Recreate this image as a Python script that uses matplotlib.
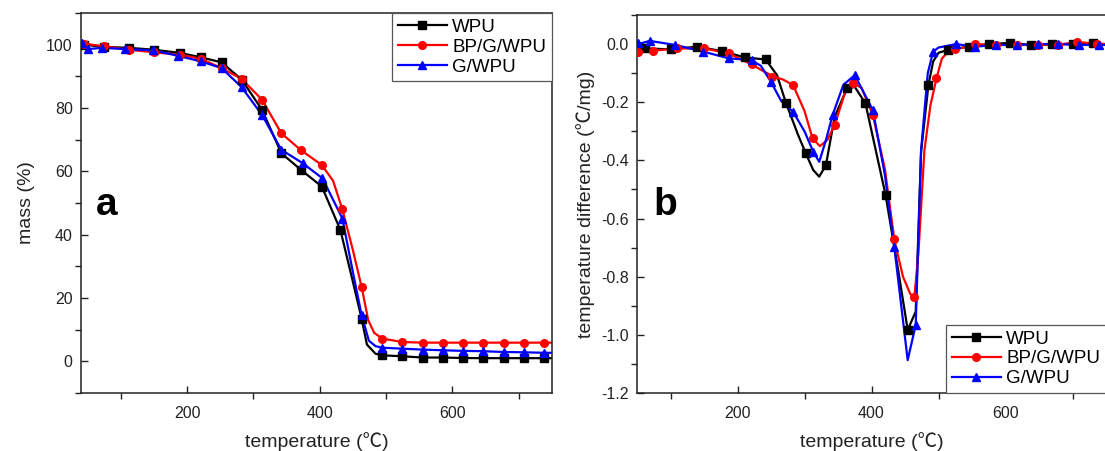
import matplotlib
matplotlib.use("Agg")
import matplotlib.pyplot as plt
from matplotlib.ticker import MultipleLocator

plt.rcParams["font.family"] = ["Liberation Sans", "Noto Sans CJK SC", "DejaVu Sans"]

SERIES = ["WPU", "BP/G/WPU", "G/WPU"]
COLORS = ["#000000", "#ff0000", "#0000ff"]
MARKERS = ["s", "o", "^"]

# ---- panel a: TGA mass (%) ------------------------------------------------
A_WPU_LINE_T = [40, 44, 74, 112, 150, 189, 221, 252, 282, 313, 342, 372, 403, 431, 450, 463,
                471, 484, 494, 524, 555, 585, 616, 646, 677, 708, 738, 750]
A_WPU_LINE_M = [100.2, 100.0, 99.3, 99.0, 98.4, 97.4, 96.0, 94.4, 89.0, 79.4, 65.7, 60.4, 55.2,
                41.5, 25.0, 13.5, 5.3, 2.4, 1.9, 1.6, 1.2, 1.2, 1.05, 1.0, 1.0, 1.0, 1.0, 1.0]
A_WPU_MARK_T = [44, 74, 112, 150, 189, 221, 252, 282, 313, 342, 372, 403, 431, 463, 494, 524,
                555, 585, 616, 646, 677, 708, 738]
A_WPU_MARK_M = [100.0, 99.3, 99.0, 98.4, 97.4, 96.0, 94.4, 89.0, 79.4, 65.7, 60.4, 55.2, 41.5,
                13.5, 1.9, 1.6, 1.2, 1.2, 1.05, 1.0, 1.0, 1.0, 1.0]

A_BP_LINE_T = [40, 44, 75, 112, 150, 189, 221, 252, 282, 313, 342, 372, 403, 420, 434, 450, 463,
               473, 482, 494, 524, 555, 585, 616, 646, 677, 708, 738, 750]
A_BP_LINE_M = [100.5, 100.3, 99.5, 98.4, 97.6, 96.8, 95.5, 92.6, 89.2, 82.6, 72.0, 66.6, 62.0,
               57.0, 48.0, 35.0, 23.5, 13.0, 9.0, 7.2, 6.1, 5.9, 5.9, 5.9, 5.9, 5.9, 5.9, 5.9, 5.9]
A_BP_MARK_T = [44, 75, 112, 150, 189, 221, 252, 282, 313, 342, 372, 403, 434, 463, 494, 524,
               555, 585, 616, 646, 677, 708, 738]
A_BP_MARK_M = [100.3, 99.5, 98.4, 97.6, 96.8, 95.5, 92.6, 89.2, 82.6, 72.0, 66.6, 62.0, 48.0,
               23.5, 7.2, 6.1, 5.9, 5.9, 5.9, 5.9, 5.9, 5.9, 5.9]

A_G_LINE_T = [40, 42, 50, 72, 107, 149, 186, 221, 252, 282, 313, 342, 374, 404, 434, 450, 463,
              474, 484, 494, 524, 555, 585, 616, 646, 677, 708, 738, 750]
A_G_LINE_M = [100.6, 100.5, 98.6, 99.0, 98.6, 98.2, 96.5, 94.7, 92.6, 86.6, 77.8, 66.8, 62.6,
              57.8, 45.1, 28.0, 14.6, 6.5, 4.8, 4.3, 4.0, 3.7, 3.5, 3.3, 3.2, 2.95, 2.85, 2.7, 2.7]
A_G_MARK_T = [42, 50, 72, 107, 149, 186, 221, 252, 282, 313, 342, 374, 404, 434, 463, 494, 524,
              555, 585, 616, 646, 677, 708, 738]
A_G_MARK_M = [100.5, 98.6, 99.0, 98.6, 98.2, 96.5, 94.7, 92.6, 86.6, 77.8, 66.8, 62.6, 57.8,
              45.1, 14.6, 4.3, 4.0, 3.7, 3.5, 3.3, 3.2, 2.95, 2.85, 2.7]

# ---- panel b: temperature difference (degC/mg) ----------------------------
B_WPU_LINE_T = [50, 62, 100, 139, 177, 211, 242, 259, 272, 290, 302, 313, 322, 332, 345, 363,
                375, 391, 421, 440, 454, 466, 474, 485, 492, 500, 514, 546, 576, 607, 638, 669,
                700, 731, 750]
B_WPU_LINE_D = [-0.020, -0.015, -0.018, -0.009, -0.024, -0.046, -0.053, -0.107, -0.200, -0.310,
                -0.376, -0.433, -0.456, -0.416, -0.250, -0.155, -0.147, -0.204, -0.519, -0.780,
                -0.983, -0.920, -0.370, -0.140, -0.060, -0.030, -0.020, -0.009, 0.000, 0.004,
                -0.003, 0.000, 0.000, 0.002, 0.000]
B_WPU_MARK_T = [62, 100, 139, 177, 211, 242, 272, 302, 332, 363, 391, 421, 454, 485, 514, 546,
                576, 607, 638, 669, 700, 731]
B_WPU_MARK_D = [-0.015, -0.018, -0.009, -0.024, -0.046, -0.053, -0.204, -0.376, -0.416, -0.150,
                -0.204, -0.519, -0.983, -0.140, -0.020, -0.009, 0.000, 0.004, -0.003, 0.000,
                0.000, 0.002]

B_BP_LINE_T = [50, 52, 74, 109, 150, 187, 221, 240, 254, 268, 283, 300, 312, 323, 334, 345, 360,
               372, 385, 402, 420, 434, 447, 458, 464, 470, 479, 488, 497, 505, 515, 540, 555,
               586, 617, 648, 678, 707, 737, 750]
B_BP_LINE_D = [-0.030, -0.026, -0.023, -0.015, -0.015, -0.032, -0.070, -0.095, -0.112, -0.122,
               -0.141, -0.230, -0.324, -0.351, -0.330, -0.279, -0.170, -0.135, -0.150, -0.244,
               -0.430, -0.672, -0.800, -0.860, -0.869, -0.720, -0.365, -0.210, -0.118, -0.050,
               -0.025, -0.010, 0.000, -0.003, -0.003, -0.003, -0.003, 0.008, 0.000, 0.000]
B_BP_MARK_T = [52, 74, 109, 150, 187, 221, 251, 283, 312, 345, 372, 402, 434, 464, 497, 525, 555,
               586, 617, 648, 678, 707, 737]
B_BP_MARK_D = [-0.026, -0.023, -0.015, -0.015, -0.032, -0.070, -0.112, -0.141, -0.324, -0.279,
               -0.135, -0.244, -0.672, -0.869, -0.118, -0.018, 0.000, -0.003, -0.003, -0.003,
               -0.003, 0.008, 0.000]

B_G_LINE_T = [50, 55, 69, 107, 149, 187, 221, 235, 250, 265, 283, 300, 313, 322, 332, 342, 358,
              375, 402, 420, 434, 454, 466, 474, 484, 492, 500, 526, 555, 586, 617, 648, 678, 709,
              740, 750]
B_G_LINE_D = [-0.010, 0.002, 0.011, -0.003, -0.026, -0.049, -0.055, -0.075, -0.130, -0.195,
              -0.233, -0.300, -0.370, -0.405, -0.330, -0.244, -0.140, -0.107, -0.227, -0.450,
              -0.697, -1.087, -0.966, -0.365, -0.100, -0.026, -0.012, 0.000, -0.009, -0.003,
              -0.003, 0.000, 0.000, -0.003, -0.003, -0.003]
B_G_MARK_T = [52, 69, 107, 149, 187, 221, 250, 283, 313, 342, 375, 402, 434, 466, 492, 526, 555,
              586, 617, 648, 678, 709, 740]
B_G_MARK_D = [0.002, 0.011, -0.003, -0.026, -0.049, -0.055, -0.130, -0.233, -0.370, -0.244,
              -0.107, -0.227, -0.697, -0.966, -0.026, 0.000, -0.009, -0.003, -0.003, 0.000,
              0.000, -0.003, -0.003]

A_DATA = [(A_WPU_LINE_T, A_WPU_LINE_M, A_WPU_MARK_T, A_WPU_MARK_M),
          (A_BP_LINE_T, A_BP_LINE_M, A_BP_MARK_T, A_BP_MARK_M),
          (A_G_LINE_T, A_G_LINE_M, A_G_MARK_T, A_G_MARK_M)]
B_DATA = [(B_WPU_LINE_T, B_WPU_LINE_D, B_WPU_MARK_T, B_WPU_MARK_D),
          (B_BP_LINE_T, B_BP_LINE_D, B_BP_MARK_T, B_BP_MARK_D),
          (B_G_LINE_T, B_G_LINE_D, B_G_MARK_T, B_G_MARK_D)]

TXT = "#222222"
MS = 5.5


def draw(ax, data):
    for (lt, lv, mt, mv), name, c, m in zip(data, SERIES, COLORS, MARKERS):
        ax.plot(lt, lv, color=c, linewidth=1.6, zorder=2)
        ax.plot(mt, mv, linestyle="none", marker=m, color=c, markersize=MS, zorder=3)
        # legend proxy
        ax.plot([], [], color=c, linewidth=1.6, marker=m, markersize=MS, label=name)


def style(ax):
    for s in ax.spines.values():
        s.set_linewidth(1.1)
        s.set_color("#222222")
    ax.tick_params(which="major", direction="in", length=5, width=1.0, labelsize=11.5,
                   colors=TXT, pad=6)
    ax.tick_params(axis="x", which="major", pad=9)
    ax.tick_params(which="minor", direction="out", length=4, width=1.0, colors=TXT)
    ax.tick_params(top=False, right=False, which="both")


def add_legend(ax, loc, anchor):
    leg = ax.legend(loc=loc, bbox_to_anchor=anchor, borderaxespad=0, fontsize=13.5,
                    handlelength=2.6, handletextpad=0.3, labelspacing=0.15, borderpad=0.3,
                    fancybox=False, framealpha=1, edgecolor="#555555")
    leg.get_frame().set_linewidth(0.9)


fig = plt.figure(figsize=(11.05, 4.51), dpi=100)
ax_a = fig.add_axes([81 / 1105, 58 / 451, 471 / 1105, 380 / 451])
ax_b = fig.add_axes([637 / 1105, 58 / 451, 469 / 1105, 378 / 451])

# panel a
draw(ax_a, A_DATA)
ax_a.set_xlim(40, 750)
ax_a.set_ylim(-10, 110)
ax_a.xaxis.set_major_locator(MultipleLocator(200))
ax_a.xaxis.set_minor_locator(MultipleLocator(100))
ax_a.yaxis.set_major_locator(MultipleLocator(20))
ax_a.yaxis.set_minor_locator(MultipleLocator(10))
style(ax_a)
ax_a.set_xlabel("temperature (℃)", fontsize=14, color=TXT, labelpad=8)
ax_a.set_ylabel("mass (%)", fontsize=14, color=TXT, labelpad=8)
ax_a.text(0.032, 0.468, "a", transform=ax_a.transAxes, fontsize=28, fontweight="bold")
add_legend(ax_a, "upper right", (1, 1))

# panel b
draw(ax_b, B_DATA)
ax_b.set_xlim(50, 750)
ax_b.set_ylim(-1.2, 0.1)
ax_b.xaxis.set_major_locator(MultipleLocator(200))
ax_b.xaxis.set_minor_locator(MultipleLocator(100))
ax_b.yaxis.set_major_locator(MultipleLocator(0.2))
ax_b.yaxis.set_minor_locator(MultipleLocator(0.1))
ax_b.yaxis.set_major_formatter(lambda v, p: f"{v:.1f}".replace("-0.0", "0.0"))
style(ax_b)
ax_b.set_xlabel("temperature (℃)", fontsize=14, color=TXT, labelpad=8)
ax_b.set_ylabel("temperature difference (℃/mg)", fontsize=14, color=TXT, labelpad=4)
ax_b.text(0.036, 0.47, "b", transform=ax_b.transAxes, fontsize=28, fontweight="bold")
add_legend(ax_b, "lower right", (1, 0))

fig.savefig("out.png", dpi=100)
